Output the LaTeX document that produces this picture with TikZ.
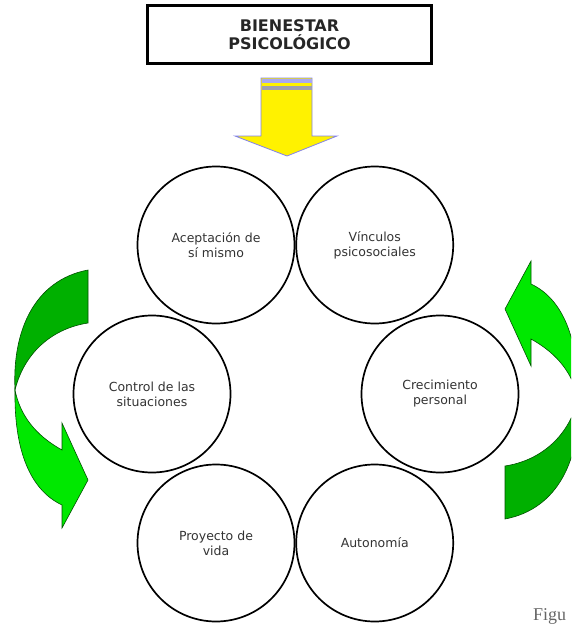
\documentclass[tikz,border=0pt]{standalone}
\usepackage{fontspec}
\newfontfamily\dejavu{DejaVu Sans}
\newfontfamily\capserif{Liberation Serif}
\usetikzlibrary{positioning}
\definecolor{leafdark}{RGB}{0,176,0}
\definecolor{leaflight}{RGB}{0,232,0}
\definecolor{leafline}{RGB}{0,80,0}
\definecolor{arrowline}{RGB}{130,130,235}
\definecolor{stripegrey}{RGB}{160,160,175}
\tikzstyle{bubble}=[circle, draw, line width=1.7pt, minimum size=157pt, inner sep=0pt, align=center, text=black!80, font=\dejavu\fontsize{12.5}{15}\selectfont]
\tikzstyle{titlebox}=[rectangle, draw, line width=2.8pt, minimum width=284pt, minimum height=58pt, align=center, text=black!85, font=\dejavu\bfseries\fontsize{16}{18.5}\selectfont]
\tikzstyle{ribbonback}=[fill=leafdark, draw=leafline, line width=0.6pt]
\tikzstyle{ribbonfront}=[fill=leaflight, draw=leafline, line width=0.6pt]
\tikzstyle{yellowarrow}=[fill=yellow, draw=arrowline, line width=0.8pt]
% curved ribbon arrow, left hand copy
\newcommand*{\DrawRibbon}{%
    \path[ribbonback] (88,270) -- (88,323) .. controls (55,328) and (25,350) .. (15,390)
        .. controls (12,330) and (35,280) .. (88,270) -- cycle;
    \path[ribbonfront] (15,390) .. controls (14,450) and (30,490) .. (62,505) -- (62,528)
        -- (88,480) -- (62,423) -- (62,450) .. controls (35,435) and (20,415) .. (15,390) -- cycle;
}

\begin{document}
\begin{tikzpicture}[x=1pt, y=-1pt]
    \useasboundingbox (0,0) rectangle (571,626);
    \clip (0,0) rectangle (571,626);
    \node[titlebox] (title) at (289.5,34.5) {BIENESTAR\\PSICOLÓGICO};
    % yellow arrow below the title
    \path[yellowarrow] (261,78) -- (312,78) -- (312,136) -- (337,136) -- (287,156)
        -- (235,136) -- (261,136) -- cycle;
    \fill[arrowline!70] (261.5,78.5) rectangle (311.5,83);
    \fill[stripegrey] (261.5,86) rectangle (311.5,90);
    % six circles
    \node[bubble] (c1) at (216,245) {Aceptación de\\sí mismo};
    \node[bubble, right=0pt of c1] (c2) {Vínculos\\psicosociales};
    \node[bubble] (c3) at (152,394) {Control de las\\situaciones};
    \node[bubble] (c4) at (440,394) {Crecimiento\\personal};
    \node[bubble] (c5) at (216,543) {Proyecto de\\vida};
    \node[bubble, right=0pt of c5] (c6) {Autonomía};
    % green ribbons
    \DrawRibbon
    \begin{scope}[rotate around={180:(296.5,394.5)}]
        \DrawRibbon
    \end{scope}
    \node[anchor=base west, inner sep=0pt, text=black!60, font=\capserif\fontsize{18}{21}\selectfont] (caption) at (533,620.5) {Figu};
\end{tikzpicture}
\end{document}
